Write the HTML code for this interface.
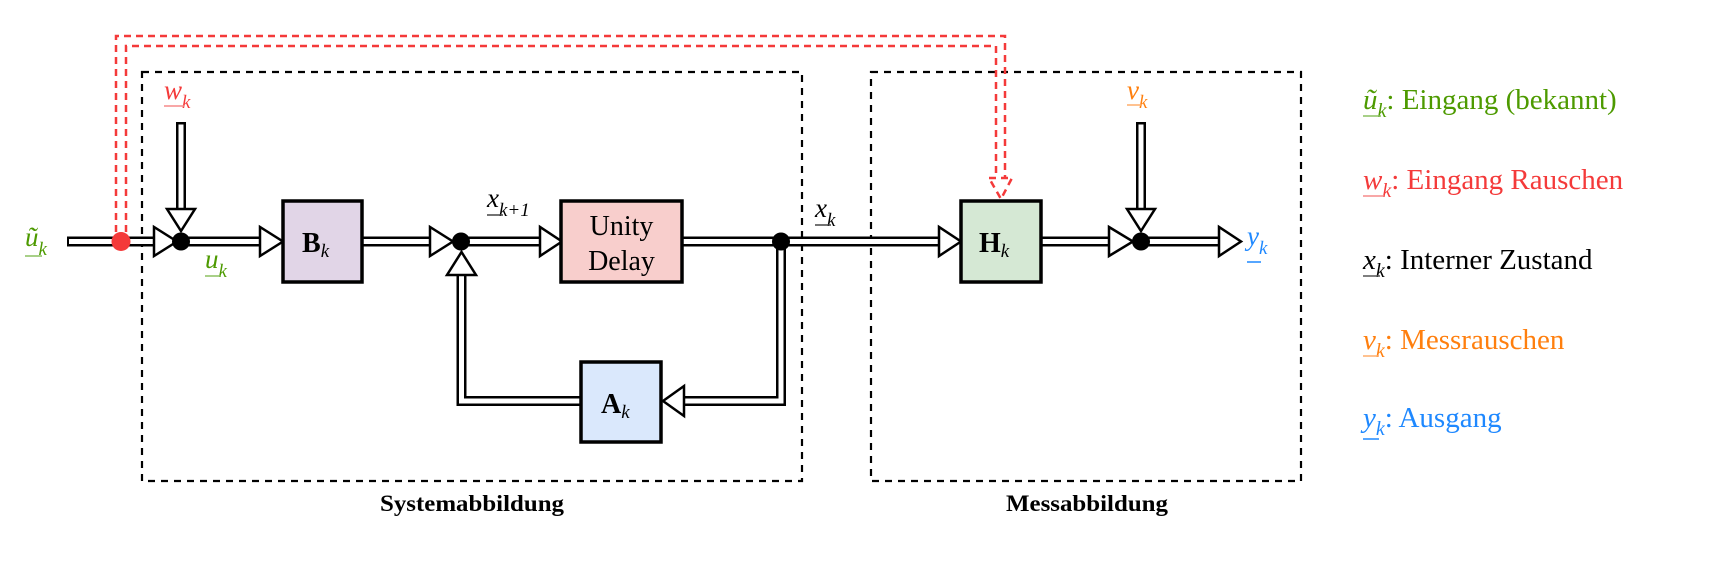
<!DOCTYPE html>
<html><head><meta charset="utf-8"><style>
html,body{margin:0;padding:0;background:#fff;}
svg{display:block;}
text{font-family:"Liberation Serif",serif;}
.m{font-style:italic;}
</style></head><body>
<svg width="1732" height="563" viewBox="0 0 1732 563" xmlns="http://www.w3.org/2000/svg">
<rect x="142" y="72" width="660" height="409" fill="none" stroke="#000" stroke-width="2.2" stroke-dasharray="7,6"/>
<rect x="871" y="72" width="430" height="409" fill="none" stroke="#000" stroke-width="2.2" stroke-dasharray="7,6"/>
<text x="472" y="511" font-size="23" font-weight="bold" text-anchor="middle" textLength="184" lengthAdjust="spacingAndGlyphs">Systemabbildung</text>
<text x="1087" y="511" font-size="23" font-weight="bold" text-anchor="middle" textLength="162" lengthAdjust="spacingAndGlyphs">Messabbildung</text>

<g fill="none" stroke="#f43a3a" stroke-width="2.5" stroke-dasharray="7,5">
<polyline points="116,232 116,36 1005,36 1005,178"/>
<polyline points="126,232 126,46 996,46 996,178"/>
<polygon points="989,178 1012,178 1001,199"/>
</g>

<g fill="none" stroke-linejoin="miter">
<g stroke="#000" stroke-width="10">
<line x1="67" y1="241.5" x2="154" y2="241.5"/>
<line x1="181" y1="241.5" x2="260" y2="241.5"/>
<line x1="362" y1="241.5" x2="430" y2="241.5"/>
<line x1="461" y1="241.5" x2="540" y2="241.5"/>
<line x1="683" y1="241.5" x2="939" y2="241.5"/>
<line x1="1042" y1="241.5" x2="1109" y2="241.5"/>
<line x1="1141" y1="241.5" x2="1219" y2="241.5"/>
<line x1="181" y1="122" x2="181" y2="209"/>
<line x1="1141" y1="122" x2="1141" y2="209"/>
<polyline points="781,241.5 781,401 684,401"/>
<polyline points="581,401 461.5,401 461.5,275"/>
</g>
<g stroke="#fff" stroke-width="5">
<line x1="69" y1="241.5" x2="156" y2="241.5"/>
<line x1="181" y1="241.5" x2="262" y2="241.5"/>
<line x1="362" y1="241.5" x2="432" y2="241.5"/>
<line x1="461" y1="241.5" x2="542" y2="241.5"/>
<line x1="683" y1="241.5" x2="941" y2="241.5"/>
<line x1="1042" y1="241.5" x2="1111" y2="241.5"/>
<line x1="1141" y1="241.5" x2="1221" y2="241.5"/>
<line x1="181" y1="124.5" x2="181" y2="211"/>
<line x1="1141" y1="124.5" x2="1141" y2="211"/>
<polyline points="781,246 781,401 682,401"/>
<polyline points="583,401 461.5,401 461.5,273"/>
</g>
</g>
<g fill="#fff" stroke="#000" stroke-width="2.5" stroke-linejoin="miter">
<polygon points="154,227 154,256 177,241.5"/>
<polygon points="260,227 260,256 283,241.5"/>
<polygon points="430,227 430,256 453,241.5"/>
<polygon points="540,227 540,256 562,241.5"/>
<polygon points="939,227 939,256 961,241.5"/>
<polygon points="1109,227 1109,256 1133,241.5"/>
<polygon points="1219,227 1219,256 1241,241.5"/>
<polygon points="167,209 195,209 181,231"/>
<polygon points="1127,209 1155,209 1141,231"/>
<polygon points="684,386 684,416 663,401"/>
<polygon points="447,275 476,275 461.5,252"/>
</g>

<circle cx="121" cy="241.5" r="9.5" fill="#f43a3a"/>
<circle cx="181" cy="241.5" r="9" fill="#000"/>
<circle cx="461" cy="241.5" r="9" fill="#000"/>
<circle cx="781" cy="241.5" r="9" fill="#000"/>
<circle cx="1141" cy="241.5" r="9" fill="#000"/>

<rect x="283" y="201" width="79" height="81" fill="#e1d5e7" stroke="#000" stroke-width="3.5"/>
<rect x="561" y="201" width="121" height="81" fill="#f8cecc" stroke="#000" stroke-width="3.5"/>
<rect x="581" y="362" width="80" height="80" fill="#dae8fc" stroke="#000" stroke-width="3.5"/>
<rect x="961" y="201" width="80" height="81" fill="#d5e8d4" stroke="#000" stroke-width="3.5"/>
<text x="302" y="252" font-size="28" font-weight="bold">B<tspan class="m" font-weight="normal" font-size="19" dy="5">k</tspan></text>
<text x="621.5" y="235" font-size="28" text-anchor="middle">Unity</text>
<text x="621.5" y="270" font-size="28" text-anchor="middle">Delay</text>
<text x="601" y="413" font-size="28" font-weight="bold">A<tspan class="m" font-weight="normal" font-size="19" dy="5">k</tspan></text>
<text x="979" y="252" font-size="28" font-weight="bold">H<tspan class="m" font-weight="normal" font-size="19" dy="5">k</tspan></text>

<g font-size="27">
<text x="25" y="246" class="m" fill="#4d9a00">ũ<tspan font-size="19" dy="9">k</tspan></text>
<line x1="25" y1="256" x2="42" y2="256" stroke="#8cc060" stroke-width="1.5"/>
<text x="164" y="99" class="m" fill="#f43a3a">w<tspan font-size="19" dy="9">k</tspan></text>
<line x1="164" y1="106" x2="184" y2="106" stroke="#f58a8a" stroke-width="1.5"/>
<text x="205" y="268" class="m" fill="#4d9a00">u<tspan font-size="19" dy="9">k</tspan></text>
<line x1="205" y1="276" x2="221" y2="276" stroke="#8cc060" stroke-width="1.5"/>
<text x="487" y="207" class="m" fill="#000">x<tspan font-size="19" dy="9">k+1</tspan></text>
<line x1="487" y1="215" x2="503" y2="215" stroke="#444" stroke-width="1.5"/>
<text x="815" y="217" class="m" fill="#000">x<tspan font-size="19" dy="9">k</tspan></text>
<line x1="815" y1="225" x2="831" y2="225" stroke="#444" stroke-width="1.5"/>
<text x="1127" y="99" class="m" fill="#ff7f0e">v<tspan font-size="19" dy="9">k</tspan></text>
<line x1="1127" y1="105" x2="1142" y2="105" stroke="#ffae6a" stroke-width="1.5"/>
<text x="1247" y="245" class="m" fill="#1e88ff">y<tspan font-size="19" dy="9">k</tspan></text>
<line x1="1247" y1="262" x2="1261" y2="262" stroke="#1e88ff" stroke-width="1.5"/>
</g>

<g font-size="29">
<text x="1363" y="109" fill="#4d9a00"><tspan class="m">ũ</tspan><tspan class="m" font-size="20" dy="8">k</tspan><tspan dy="-8">: Eingang (bekannt)</tspan></text>
<line x1="1363" y1="116" x2="1381" y2="116" stroke="#8cc060" stroke-width="1.5"/>
<text x="1363" y="189" fill="#f43a3a"><tspan class="m">w</tspan><tspan class="m" font-size="20" dy="8">k</tspan><tspan dy="-8">: Eingang Rauschen</tspan></text>
<line x1="1363" y1="196" x2="1384" y2="196" stroke="#f58a8a" stroke-width="1.5"/>
<text x="1363" y="269" fill="#000"><tspan class="m">x</tspan><tspan class="m" font-size="20" dy="8">k</tspan><tspan dy="-8">: Interner Zustand</tspan></text>
<line x1="1363" y1="276" x2="1380" y2="276" stroke="#555" stroke-width="1.5"/>
<text x="1363" y="349" fill="#ff7f0e"><tspan class="m">v</tspan><tspan class="m" font-size="20" dy="8">k</tspan><tspan dy="-8">: Messrauschen</tspan></text>
<line x1="1363" y1="356" x2="1379" y2="356" stroke="#ffae6a" stroke-width="1.5"/>
<text x="1363" y="427" fill="#1e88ff"><tspan class="m">y</tspan><tspan class="m" font-size="20" dy="8">k</tspan><tspan dy="-8">: Ausgang</tspan></text>
<line x1="1363" y1="439" x2="1379" y2="439" stroke="#1e88ff" stroke-width="1.5"/>
</g>
</svg>
</body></html>
